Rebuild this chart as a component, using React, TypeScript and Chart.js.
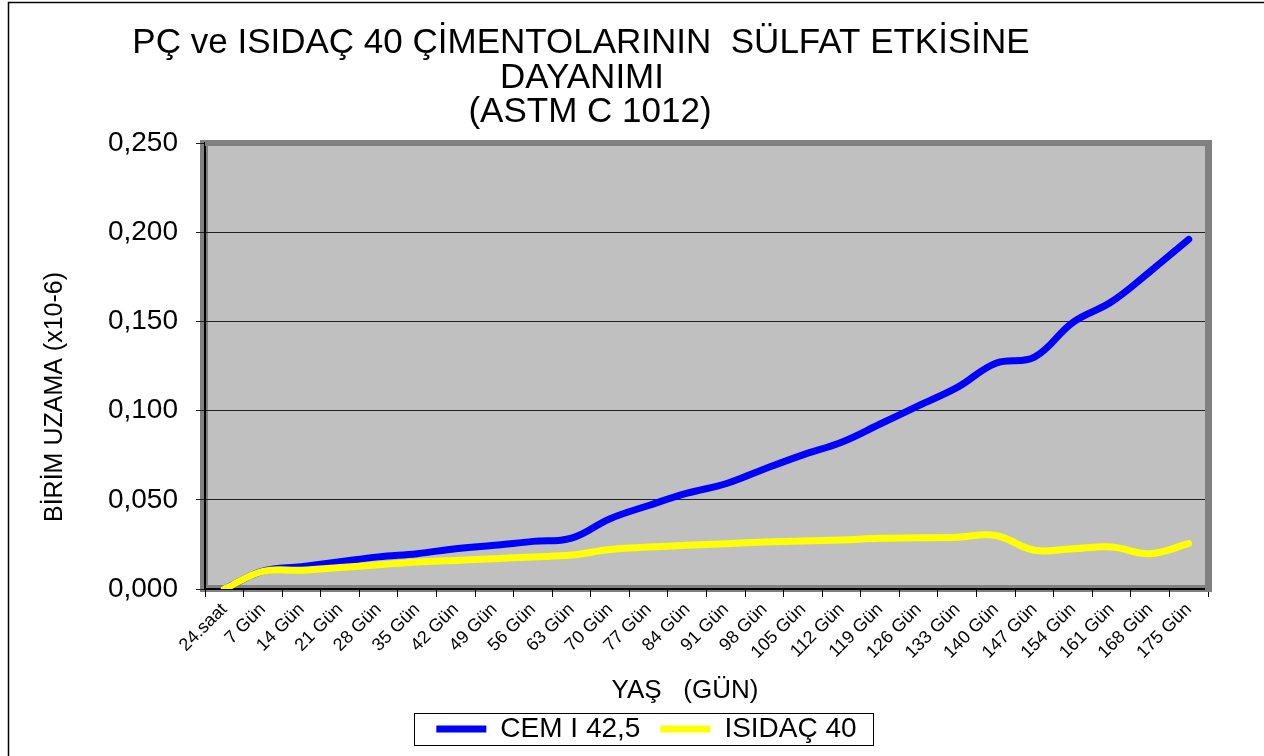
import React, { useEffect, useRef } from 'react';
import { Chart, registerables } from 'chart.js';

Chart.register(...registerables);

const categories = [
  '24.saat', '7 Gün', '14 Gün', '21 Gün', '28 Gün', '35 Gün', '42 Gün', '49 Gün', '56 Gün',
  '63 Gün', '70 Gün', '77 Gün', '84 Gün', '91 Gün', '98 Gün', '105 Gün', '112 Gün', '119 Gün',
  '126 Gün', '133 Gün', '140 Gün', '147 Gün', '154 Gün', '161 Gün', '168 Gün', '175 Gün',
];

const cemValues = [
  0, 0.010, 0.0125, 0.0153, 0.018, 0.0198, 0.0226, 0.0245, 0.0267, 0.0285,
  0.0394, 0.0468, 0.0537, 0.059, 0.0673, 0.0752, 0.0823, 0.0925, 0.1028, 0.113,
  0.1266, 0.130, 0.1495, 0.161, 0.178, 0.196,
];

const isidacValues = [
  0, 0.0099, 0.0105, 0.012, 0.0136, 0.0152, 0.016, 0.017, 0.018, 0.019,
  0.0222, 0.0235, 0.0245, 0.0254, 0.0263, 0.0269, 0.0275, 0.0284, 0.0287, 0.029,
  0.030, 0.0217, 0.0226, 0.0235, 0.0198, 0.0254,
];

const seriesNames = ['CEM I 42,5', 'ISIDAÇ 40'];
const titleLines = ['PÇ ve ISIDAÇ 40 ÇİMENTOLARININ  SÜLFAT ETKİSİNE', 'DAYANIMI', '(ASTM C 1012)'];
const xTitle = 'YAŞ   (GÜN)';
const yTitle = 'BİRİM UZAMA (x10-6)';

const FONT = "'Liberation Sans', Arial, sans-serif";

const decor = {
  id: 'decor',
  beforeDraw(chart: any) {
    const { ctx, chartArea: a } = chart;
    ctx.save();
    ctx.fillStyle = '#ffffff';
    ctx.fillRect(0, 0, chart.width, chart.height);
    // outer frame
    ctx.strokeStyle = '#000';
    ctx.lineWidth = 1.5;
    ctx.beginPath();
    ctx.moveTo(8.5, chart.height);
    ctx.lineTo(8.5, 2.5);
    ctx.lineTo(chart.width, 2.5);
    ctx.stroke();
    // plot background
    ctx.fillStyle = '#c0c0c0';
    ctx.fillRect(a.left, a.top, a.right - a.left, a.bottom - a.top);
    // left & bottom wall bands
    ctx.fillStyle = '#808080';
    ctx.fillRect(a.left - 5, a.top - 3, 8, a.bottom - a.top + 6);
    ctx.fillRect(a.left - 5, a.bottom - 4, a.right - a.left + 9, 7);
    ctx.restore();
  },
  beforeDatasetsDraw(chart: any) {
    const { ctx, chartArea: a } = chart;
    ctx.save();
    ctx.fillStyle = '#808080';
    ctx.fillRect(a.left, a.top - 3, a.right - a.left + 4, 6);
    ctx.fillRect(a.right - 3, a.top - 3, 7, a.bottom - a.top + 6);
    ctx.restore();
  },
  afterDraw(chart: any) {
    const { ctx } = chart;
    ctx.save();
    ctx.fillStyle = '#000';
    // main title
    ctx.font = `35px ${FONT}`;
    ctx.textAlign = 'center';
    ctx.textBaseline = 'alphabetic';
    ctx.fillText(titleLines[0], 581, 53);
    ctx.fillText(titleLines[1], 582, 88);
    ctx.fillText(titleLines[2], 590, 122);
    // x axis title
    ctx.font = `26px ${FONT}`;
    ctx.textBaseline = 'middle';
    ctx.fillText(xTitle, 685, 691);
    // y axis title
    ctx.save();
    ctx.font = `25px ${FONT}`;
    ctx.translate(55, 397);
    ctx.rotate(-Math.PI / 2);
    ctx.fillText(yTitle, 0, 0);
    ctx.restore();
    // legend frame
    const hb = chart.legend && chart.legend.legendHitBoxes;
    if (hb && hb.length) {
      const first = hb[0];
      const last = hb[hb.length - 1];
      const cy = first.top + first.height / 2;
      const left = first.left - 22;
      const right = last.left + last.width + 17;
      ctx.strokeStyle = '#000';
      ctx.lineWidth = 1;
      ctx.strokeRect(Math.round(left) + 0.5, Math.round(cy - 16) + 0.5, Math.round(right - left), 32);
    }
    ctx.restore();
  },
};

export default function App() {
  const ref = useRef<HTMLCanvasElement>(null);
  useEffect(() => {
    if (!ref.current) return;
    const chart = new Chart(ref.current, {
      type: 'line',
      data: {
        labels: categories,
        datasets: [
          {
            label: seriesNames[0],
            data: cemValues,
            borderColor: '#0000ff',
            backgroundColor: '#0000ff',
            borderWidth: 7,
            pointRadius: 0,
            tension: 0.4,
            borderCapStyle: 'round',
            borderJoinStyle: 'round',
            fill: false,
            order: 1,
          },
          {
            label: seriesNames[1],
            data: isidacValues,
            borderColor: '#ffff00',
            backgroundColor: '#ffff00',
            borderWidth: 7,
            pointRadius: 0,
            tension: 0.4,
            borderCapStyle: 'round',
            borderJoinStyle: 'round',
            fill: false,
            order: 0,
          },
        ],
      },
      options: {
        responsive: false,
        animation: false,
        events: [],
        layout: { padding: { left: 85, right: 56, top: 143, bottom: 3 } },
        plugins: {
          title: { display: false },
          tooltip: { enabled: false },
          legend: {
            position: 'bottom',
            labels: {
              usePointStyle: true,
              pointStyle: 'line',
              pointStyleWidth: 50,
              padding: 20,
              color: '#000',
              font: { family: FONT, size: 28 },
              sort: (a: any, b: any) => a.datasetIndex - b.datasetIndex,
            },
          },
        },
        scales: {
          x: {
            offset: true,
            grid: {
              offset: true,
              drawOnChartArea: false,
              drawTicks: true,
              tickLength: 8,
              color: '#000',
              lineWidth: 1,
            },
            border: { display: true, color: '#000', width: 2 },
            ticks: {
              autoSkip: false,
              maxRotation: 45,
              minRotation: 45,
              padding: 2,
              color: '#000',
              font: { family: FONT, size: 18 },
            },
            afterFit: (s: any) => {
              s.height = 106;
            },
          },
          y: {
            min: 0,
            max: 0.25,
            grid: { color: '#202020', lineWidth: 1, tickLength: 9, drawTicks: true },
            border: { display: true, color: '#000', width: 2 },
            ticks: {
              stepSize: 0.05,
              padding: 18,
              color: '#000',
              font: { family: FONT, size: 28 },
              callback: (v: any) => Number(v).toFixed(3).replace('.', ','),
            },
            afterFit: (s: any) => {
              s.width = 120;
            },
          },
        },
      },
      plugins: [decor],
    } as any);
    return () => chart.destroy();
  }, []);
  return (
    <canvas
      ref={ref}
      width={1264}
      height={756}
      style={{ position: 'fixed', left: 0, top: 0, display: 'block' }}
    />
  );
}
